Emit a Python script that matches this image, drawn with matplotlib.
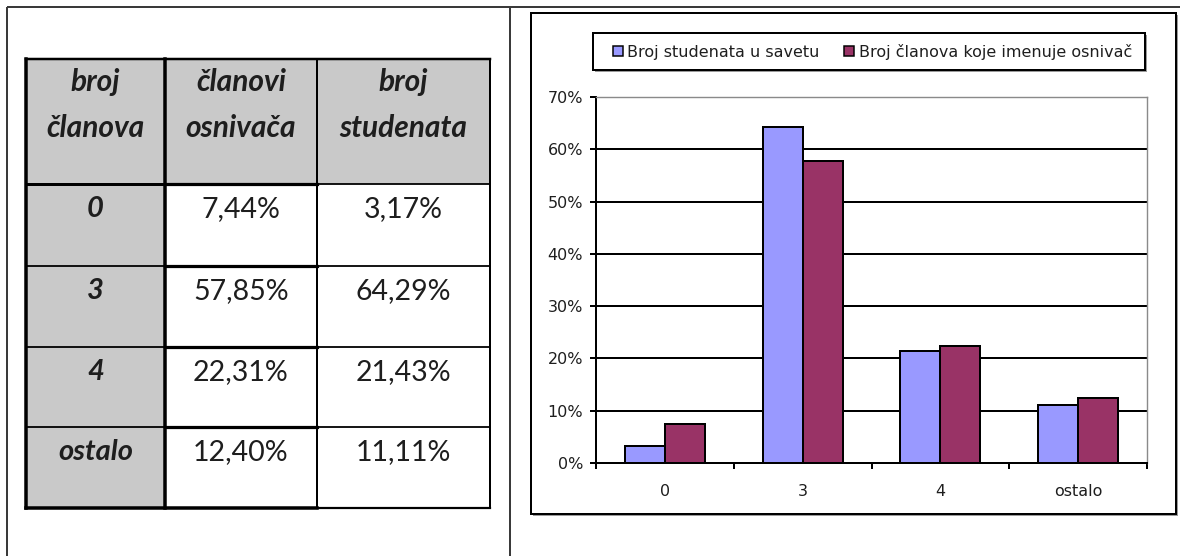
import matplotlib
matplotlib.use("Agg")
import matplotlib.pyplot as plt
import numpy as np
from matplotlib.patches import Patch, Rectangle
from matplotlib.ticker import PercentFormatter

categories = ["0", "3", "4", "ostalo"]
clanovi_osnivaca = [7.44, 57.85, 22.31, 12.40]
broj_studenata = [3.17, 64.29, 21.43, 11.11]
header_labels = [["broj", "članova"], ["članovi", "osnivača"], ["broj", "studenata"]]
legend_labels = ["Broj studenata u savetu", "Broj članova koje imenuje osnivač"]
y_ticks = [0, 10, 20, 30, 40, 50, 60, 70]

W, H = 1180, 556
PX = 0.72  # one pixel in points at dpi 100

BLUE = "#9999ff"
MAROON = "#993366"
GRAY = "#c9c9c9"
TABLE_FONT = "Lato"
INK = "#1e1e1e"


def pct(v):
    return f"{v:.2f}".replace(".", ",") + "%"


fig = plt.figure(figsize=(W / 100, H / 100), dpi=100)
page = fig.add_axes([0, 0, 1, 1])
page.set_xlim(0, W)
page.set_ylim(H, 0)
page.axis("off")

# page frame
frame_kw = dict(color="#3a3a3a", lw=2 * PX, solid_capstyle="butt")
page.plot([7, W], [7, 7], **frame_kw)
page.plot([7, 7], [7, H], **frame_kw)
page.plot([510, 510], [7, H], **frame_kw)

# ---- table ----
xs = [26, 165, 317, 490]
ys = [59, 184, 266, 347, 427, 508]

page.add_patch(Rectangle((xs[0], ys[0]), xs[3] - xs[0], ys[1] - ys[0], fc=GRAY, ec="none"))
page.add_patch(Rectangle((xs[0], ys[1]), xs[1] - xs[0], ys[5] - ys[1], fc=GRAY, ec="none"))


def hline(y, x0, x1, w):
    page.plot([x0, x1], [y, y], color="black", lw=w * PX, solid_capstyle="projecting")


def vline(x, y0, y1, w):
    page.plot([x, x], [y0, y1], color="black", lw=w * PX, solid_capstyle="projecting")


hline(ys[0], xs[0], xs[3], 2.5)
for y in ys[1:5]:
    hline(y, xs[0], xs[1], 1.8)
    hline(y, xs[1], xs[2], 3.2)
    hline(y, xs[2], xs[3], 1.8)
hline(ys[1], xs[0], xs[1], 3.0)
hline(ys[5], xs[0], xs[2], 3.5)
hline(ys[5], xs[2], xs[3], 2.2)
vline(xs[0], ys[0], ys[5], 3.5)
vline(xs[1], ys[0], ys[5], 3.5)
vline(xs[2], ys[0], ys[5], 2.0)
vline(xs[3], ys[0], ys[5], 2.0)

centers = [(xs[i] + xs[i + 1]) / 2 for i in range(3)]
for cx, lines in zip(centers, header_labels):
    for base, txt in zip([91, 137], lines):
        page.text(cx, base, txt, ha="center", va="baseline", fontsize=21.5,
                  family=TABLE_FONT, weight="bold", style="italic", color=INK)

for i, cat in enumerate(categories):
    base = ys[i + 1] + 33
    page.text(centers[0], base, cat, ha="center", va="baseline", fontsize=21,
              family=TABLE_FONT, weight="bold", style="italic", color=INK)
    page.text(centers[1], base, pct(clanovi_osnivaca[i]), ha="center", va="baseline",
              fontsize=20.5, family=TABLE_FONT, color=INK)
    page.text(centers[2], base, pct(broj_studenata[i]), ha="center", va="baseline",
              fontsize=20.5, family=TABLE_FONT, color=INK)

# ---- chart frame ----
page.add_patch(Rectangle((533, 15), 1176 - 531, 514 - 13, fc="#9a9a9a", ec="none"))
page.add_patch(Rectangle((531, 13), 1176 - 531, 514 - 13, fc="white", ec="black", lw=2 * PX))

# ---- bar chart ----
ax = fig.add_axes([596 / W, 1 - 463 / H, (1147 - 596) / W, (463 - 97) / H])
ax.set_facecolor("none")
x = np.arange(len(categories))
bw = 0.29
ax.hlines(y_ticks[1:-1], -0.5, len(categories) - 0.5, color="black", lw=2 * PX, zorder=1)
ax.bar(x - bw / 2, broj_studenata, bw, color=BLUE, edgecolor="black", lw=2 * PX, zorder=3)
ax.bar(x + bw / 2, clanovi_osnivaca, bw, color=MAROON, edgecolor="black", lw=2 * PX, zorder=3)
ax.set_xlim(-0.5, len(categories) - 0.5)
ax.set_ylim(0, y_ticks[-1])
ax.set_yticks(y_ticks)
ax.yaxis.set_major_formatter(PercentFormatter(decimals=0))
ax.set_xticks(x)
ax.set_xticklabels(categories)
ax.set_xticks(np.arange(-0.5, len(categories), 1.0), minor=True)

ax.tick_params(axis="y", direction="out", length=6 * PX, width=2 * PX, pad=5, labelsize=11.5)
ax.tick_params(axis="x", which="major", length=0, pad=15, labelsize=11.5)
ax.tick_params(axis="x", which="minor", direction="out", length=6 * PX, width=2 * PX)
for lab in ax.get_yticklabels() + ax.get_xticklabels():
    lab.set_color(INK)

ax.spines["left"].set_linewidth(2 * PX)
ax.spines["bottom"].set_linewidth(2 * PX)
ax.spines["top"].set_color("#8a8a8a")
ax.spines["right"].set_color("#8a8a8a")
ax.spines["top"].set_linewidth(1.4 * PX)
ax.spines["right"].set_linewidth(1.4 * PX)

handles = [Patch(fc=BLUE, ec="black", lw=1.5 * PX), Patch(fc=MAROON, ec="black", lw=1.5 * PX)]
leg = fig.legend(handles, legend_labels, loc="center", ncol=2, mode="expand",
                 bbox_to_anchor=(605 / W, 1 - 70 / H, (1140 - 605) / W, 37 / H),
                 borderaxespad=0, borderpad=0.5, fontsize=11.5, fancybox=False,
                 handlelength=0.6, handleheight=0.6, handletextpad=0.3, frameon=False)
for t in leg.get_texts():
    t.set_color(INK)
# legend box drawn separately so the entries sit with Excel-like inner margins
page.add_patch(Rectangle((595, 35), 1145 - 593, 70 - 33, fc="#9a9a9a", ec="none"))
page.add_patch(Rectangle((593, 33), 1145 - 593, 70 - 33, fc="white", ec="black", lw=2 * PX))

fig.savefig("out.png", dpi=100)
